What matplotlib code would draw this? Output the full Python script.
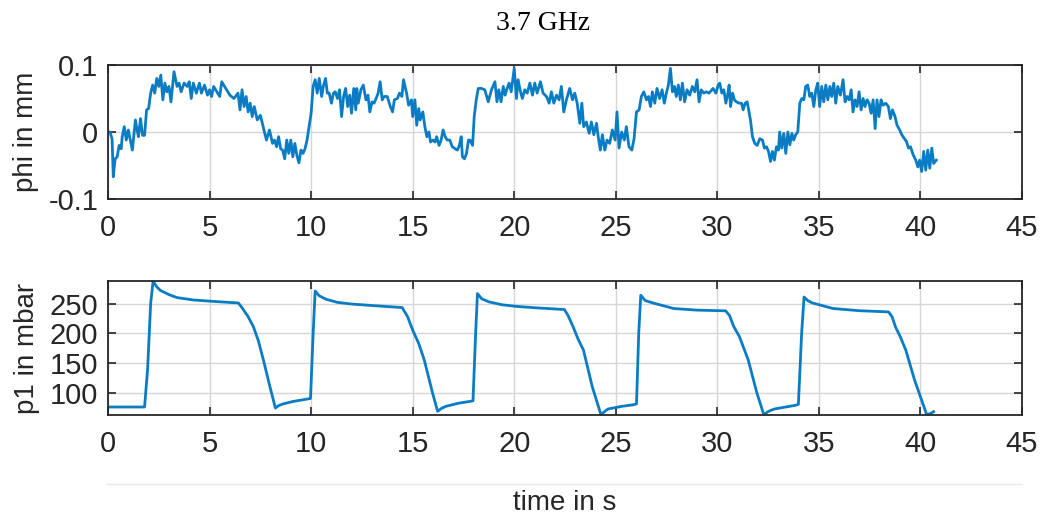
import matplotlib
matplotlib.use("Agg")
import matplotlib.pyplot as plt
from matplotlib.lines import Line2D

# ---------------- data ----------------
phi_t = [0.0, 0.1, 0.2, 0.26, 0.35, 0.45, 0.55, 0.65, 0.7, 0.8, 0.9, 1.0, 1.1, 1.2, 1.35, 1.45, 1.5, 1.6, 1.7, 1.8,
         1.9, 2.0, 2.1, 2.2, 2.3, 2.4, 2.5, 2.6, 2.7, 2.8, 2.9, 3.0, 3.1, 3.25, 3.4, 3.5, 3.6, 3.75, 3.9, 4.0,
         4.1, 4.2, 4.35, 4.5, 4.6, 4.75, 4.9, 5.0, 5.1, 5.2, 5.4, 5.5, 5.6, 5.8, 6.0, 6.2, 6.4, 6.5, 6.6, 6.7,
         6.8, 6.9, 7.0, 7.1, 7.2, 7.35, 7.5, 7.6, 7.7, 7.8, 7.95, 8.1, 8.2, 8.3, 8.4, 8.5, 8.6, 8.7, 8.8, 8.9,
         9.0, 9.1, 9.2, 9.3, 9.4, 9.5, 9.6, 9.7, 9.8, 9.9, 10.0, 10.1,
         10.2, 10.3, 10.4, 10.52, 10.6, 10.71, 10.8, 10.89, 11.0, 11.1, 11.19, 11.3, 11.4, 11.5, 11.6, 11.7,
         11.8, 11.9, 11.99, 12.1, 12.2, 12.25, 12.32, 12.45, 12.57, 12.7, 12.8, 12.89, 13.0, 13.1, 13.2, 13.3,
         13.4, 13.5, 13.6, 13.75, 13.9, 14.01, 14.1, 14.25, 14.35, 14.47, 14.55, 14.7, 14.8, 14.94, 15.0, 15.11,
         15.2, 15.3, 15.37, 15.5, 15.6, 15.7, 15.8, 15.88, 16.0, 16.1, 16.18, 16.3, 16.4, 16.5, 16.6, 16.7,
         16.83, 16.95, 17.09, 17.2, 17.3, 17.39, 17.45, 17.55, 17.65, 17.75, 17.82, 17.95, 18.03, 18.13, 18.23,
         18.39, 18.55, 18.72, 18.88, 19.05, 19.15, 19.24, 19.35, 19.46, 19.55, 19.65, 19.75, 19.85,
         20.0, 20.11, 20.19, 20.31, 20.4, 20.52, 20.64, 20.77, 20.9, 21.01, 21.13, 21.29, 21.42, 21.59, 21.72,
         21.83, 21.95, 22.08, 22.21, 22.32, 22.44, 22.57, 22.73, 22.87, 22.98, 23.1, 23.23, 23.33, 23.42, 23.55,
         23.69, 23.8, 23.92, 24.05, 24.15, 24.24, 24.34, 24.46, 24.57, 24.7, 24.83, 24.97, 25.06, 25.16, 25.29,
         25.42, 25.52, 25.65, 25.79, 25.9, 26.02, 26.15, 26.26, 26.38, 26.51, 26.61, 26.71, 26.8, 26.92, 27.03,
         27.16, 27.28, 27.39, 27.49, 27.59, 27.69, 27.79, 27.89, 27.98, 28.08, 28.18, 28.28, 28.39, 28.51, 28.64,
         28.77, 28.89, 29.0, 29.1, 29.21, 29.33, 29.46, 29.59,
         29.79, 29.93, 30.04, 30.12, 30.22, 30.32, 30.42, 30.52, 30.58, 30.65, 30.75, 30.84, 30.94, 31.07, 31.19,
         31.27, 31.37, 31.47, 31.53, 31.63, 31.73, 31.84, 31.96, 32.09, 32.22, 32.32, 32.42, 32.52, 32.62, 32.71,
         32.81, 32.91, 33.01, 33.07, 33.17, 33.27, 33.37, 33.47, 33.57, 33.67, 33.76, 33.86, 33.96, 34.06, 34.16,
         34.26, 34.35, 34.45, 34.55, 34.65, 34.75, 34.85, 34.94, 35.04, 35.14, 35.24, 35.34, 35.44, 35.54, 35.63,
         35.73, 35.83, 35.93, 36.06, 36.19, 36.29, 36.39, 36.49, 36.59, 36.68, 36.78, 36.88, 36.98, 37.08, 37.18,
         37.27, 37.37, 37.47, 37.57, 37.67, 37.77, 37.86, 37.96, 38.06, 38.16, 38.29, 38.42, 38.52, 38.62, 38.75,
         38.85, 38.98, 39.08, 39.21, 39.31, 39.41, 39.51, 39.64, 39.77, 39.87, 39.96, 40.06, 40.16, 40.26, 40.36,
         40.46, 40.56, 40.65, 40.78]

phi_mm = [0.0, 0.0, -0.01, -0.067, -0.04, -0.037, -0.02, -0.025, -0.007, 0.008, -0.012, 0.003, -0.012, -0.027, 0.018, 0.0, -0.007, 0.02, -0.005, -0.005,
          0.033, 0.035, 0.058, 0.07, 0.058, 0.08, 0.068, 0.085, 0.048, 0.073, 0.06, 0.068, 0.045, 0.09, 0.068, 0.073, 0.06, 0.073, 0.068, 0.075,
          0.05, 0.073, 0.058, 0.073, 0.058, 0.07, 0.055, 0.063, 0.053, 0.068, 0.058, 0.053, 0.075, 0.065, 0.055, 0.05, 0.058, 0.033, 0.063, 0.038,
          0.053, 0.03, 0.043, 0.023, 0.038, 0.018, 0.025, 0.013, 0.0, -0.012, 0.003, -0.017, -0.012, -0.022, -0.007, -0.025, -0.027, -0.04, -0.012, -0.032,
          -0.012, -0.037, -0.017, -0.035, -0.046, -0.027, -0.032, -0.025, -0.012, 0.008, 0.028, 0.068,
          0.078, 0.058, 0.08, 0.053, 0.068, 0.08, 0.058, 0.058, 0.043, 0.058, 0.06, 0.05, 0.063, 0.023, 0.053, 0.065,
          0.038, 0.055, 0.028, 0.065, 0.033, 0.065, 0.043, 0.063, 0.07, 0.048, 0.055, 0.03, 0.045, 0.043, 0.05, 0.058,
          0.075, 0.048, 0.053, 0.053, 0.038, 0.03, 0.048, 0.05, 0.058, 0.053, 0.078, 0.058, 0.04, 0.048, 0.023, 0.048,
          0.01, 0.035, 0.018, 0.03, 0.008, -0.007, 0.0, -0.015, -0.012, -0.015, -0.007, -0.02, -0.012, 0.003, -0.007, -0.012,
          -0.012, -0.022, -0.025, -0.027, -0.02, -0.007, -0.037, -0.04, -0.032, -0.012, -0.012, -0.02, 0.023, 0.048, 0.065,
          0.065, 0.063, 0.045, 0.063, 0.075, 0.045, 0.063, 0.045, 0.068, 0.055, 0.065, 0.073, 0.06,
          0.095, 0.05, 0.078, 0.06, 0.05, 0.063, 0.058, 0.073, 0.055, 0.073, 0.058, 0.075, 0.058, 0.053, 0.043,
          0.06, 0.043, 0.055, 0.048, 0.068, 0.03, 0.048, 0.065, 0.048, 0.058, 0.043, 0.013, 0.043, 0.008, 0.015,
          -0.002, 0.015, -0.004, 0.013, -0.01, -0.027, -0.004, -0.027, -0.012, -0.017, 0.003, -0.012, 0.03, -0.024, 0.0,
          -0.012, 0.008, -0.022, -0.027, -0.01, 0.03, 0.033, 0.053, 0.06, 0.048, 0.053, 0.038, 0.06, 0.043, 0.065,
          0.05, 0.063, 0.043, 0.058, 0.07, 0.095, 0.06, 0.068, 0.053, 0.07, 0.048, 0.073, 0.045, 0.063, 0.055,
          0.068, 0.06, 0.078, 0.045, 0.063, 0.058, 0.06, 0.058,
          0.065, 0.058, 0.07, 0.073, 0.058, 0.063, 0.043, 0.058, 0.07, 0.038, 0.058, 0.048, 0.045, 0.043, 0.043,
          0.033, 0.043, 0.045, 0.035, 0.018, -0.007, -0.017, -0.02, -0.01, -0.012, -0.024, -0.022, -0.029, -0.044, -0.029,
          -0.042, -0.022, -0.027, 0.0, -0.024, -0.002, -0.032, 0.0, -0.019, -0.002, -0.012, -0.004, 0.0, 0.043, 0.05,
          0.048, 0.068, 0.07, 0.053, 0.058, 0.038, 0.063, 0.073, 0.038, 0.068, 0.045, 0.07, 0.048, 0.068, 0.053,
          0.073, 0.043, 0.068, 0.055, 0.078, 0.045, 0.053, 0.048, 0.063, 0.03, 0.048, 0.038, 0.06, 0.033, 0.05,
          0.038, 0.048, 0.043, 0.028, 0.048, 0.005, 0.048, 0.023, 0.048, 0.04, 0.043, 0.038, 0.02, 0.033, 0.023,
          0.01, 0.003, -0.004, -0.01, -0.014, -0.024, -0.022, -0.034, -0.042, -0.052, -0.042, -0.059, -0.029, -0.057, -0.027,
          -0.054, -0.024, -0.047, -0.042]

p1_t = [0, 1.8, 1.95, 2.1, 2.22, 2.4, 2.58, 3.0, 3.4, 4.2, 5.03, 6.42, 6.6, 6.9, 7.16, 7.4, 7.65, 7.97, 8.24, 8.4,
        8.63, 9.12, 9.8, 9.97, 10.1, 10.2, 10.4, 10.75, 11.3, 12.06, 13.3, 14.48, 14.75, 15.0, 15.3, 15.57, 15.98,
        16.23, 16.4, 16.63, 17.29, 17.81, 17.97, 18.1, 18.19, 18.4, 18.76, 19.4, 20.0, 21.0, 22.47, 22.65, 22.9,
        23.15, 23.41, 23.84, 24.27, 24.45, 24.61, 25.29, 25.89, 26.02, 26.13, 26.23, 26.45, 26.83, 27.85, 29.0,
        30.41, 30.6, 30.8, 31.09, 31.52, 31.95, 32.29, 32.5, 32.8, 33.82, 33.99, 34.15, 34.27, 34.45, 34.68, 35.7,
        37.0, 38.43, 38.6, 38.77, 39.0, 39.28, 39.71, 40.31, 40.5, 40.65]
p1_mbar = [76.7, 76.7, 140, 250, 287.5, 278, 272, 265, 260, 256, 254, 251, 243, 228, 211, 188, 155.6, 111, 75, 79,
           82, 86, 90, 91, 200, 271, 263, 257, 252, 249, 246, 243.3, 228, 205.6, 183, 155.6, 100,
           69.4, 74, 77.8, 83.3, 86, 87, 200, 266.7, 258, 252.8, 248, 245.6, 243, 240, 230, 211,
           190, 172, 111, 63.8, 69, 73.3, 77.8, 80.6, 82, 200, 263.9, 255, 251, 241.7, 239,
           237.8, 230, 212, 194.4, 155.6, 100, 63.8, 69, 73.3, 79.4, 81, 200, 261, 255, 251, 241.7,
           238, 236, 228, 211, 195, 172, 122, 63.8, 66, 68.9]

x_ticks = [0, 5, 10, 15, 20, 25, 30, 35, 40, 45]
phi_ticks = [-0.1, 0, 0.1]
phi_ticklabels = ["-0.1", "0", "0.1"]
p1_ticks = [100, 150, 200, 250]
p1_ticklabels = ["100", "150", "200", "250"]

title_text = "3.7 GHz"
phi_label = "phi in mm"
p1_label = "p1 in mbar"
x_label = "time in s"

# ---------------- styling ----------------
W, H = 1045, 521
LINE = "#0a7cc4"
DARK = "#262626"
GRID = "#d6d6d6"
SANS = ["Liberation Sans", "DejaVu Sans"]
FS = 20

fig = plt.figure(figsize=(W / 100, H / 100), dpi=100)

def fx(px):
    return px / W

def fy(py):
    return 1 - py / H

left, right = 108, 1022
ax1 = fig.add_axes([fx(left), fy(199), fx(right - left), (199 - 65) / H])
ax2 = fig.add_axes([fx(left), fy(415), fx(right - left), (415 - 281) / H])

ax1.plot(phi_t, phi_mm, color=LINE, lw=2.0, solid_joinstyle="round")
ax2.plot(p1_t, p1_mbar, color=LINE, lw=2.0, solid_joinstyle="round")

ax1.set_xlim(0, 45)
ax1.set_ylim(-0.1, 0.1)
ax1.set_yticks(phi_ticks)
ax1.set_yticklabels(phi_ticklabels)

ax2.set_xlim(0, 45)
ax2.set_ylim(63.3, 287.8)
ax2.set_yticks(p1_ticks)
ax2.set_yticklabels(p1_ticklabels)

for ax in (ax1, ax2):
    ax.set_xticks(x_ticks)
    ax.set_xticklabels([str(v) for v in x_ticks])
    ax.grid(True, color=GRID, lw=1.0)
    ax.set_axisbelow(True)
    for s in ax.spines.values():
        s.set_color(DARK)
        s.set_linewidth(1.3)
    ax.tick_params(direction="in", top=True, right=True, length=6, width=1.2,
                   color=DARK, labelcolor=DARK, labelsize=21)
    ax.tick_params(axis="x", pad=11)
    ax.tick_params(axis="y", pad=7)
    for lab in ax.get_xticklabels() + ax.get_yticklabels():
        lab.set_family(SANS)

fig.text(fx(26), fy(132), phi_label, rotation=90, ha="center", va="center",
         fontsize=FS, color=DARK, family=SANS)
fig.text(fx(27), fy(348), p1_label, rotation=90, ha="center", va="center",
         fontsize=FS, color=DARK, family=SANS)
fig.text(fx(565), fy(503), x_label, ha="center", va="center",
         fontsize=FS, color=DARK, family=SANS)
fig.text(fx(543), fy(24), title_text, ha="center", va="center",
         fontsize=20, color="black", family=["Liberation Serif", "DejaVu Serif"])

fig.add_artist(Line2D([fx(107), fx(1022)], [fy(484), fy(484)], color="#e8e8e8", lw=1.0))

fig.savefig("out.png", dpi=100)
